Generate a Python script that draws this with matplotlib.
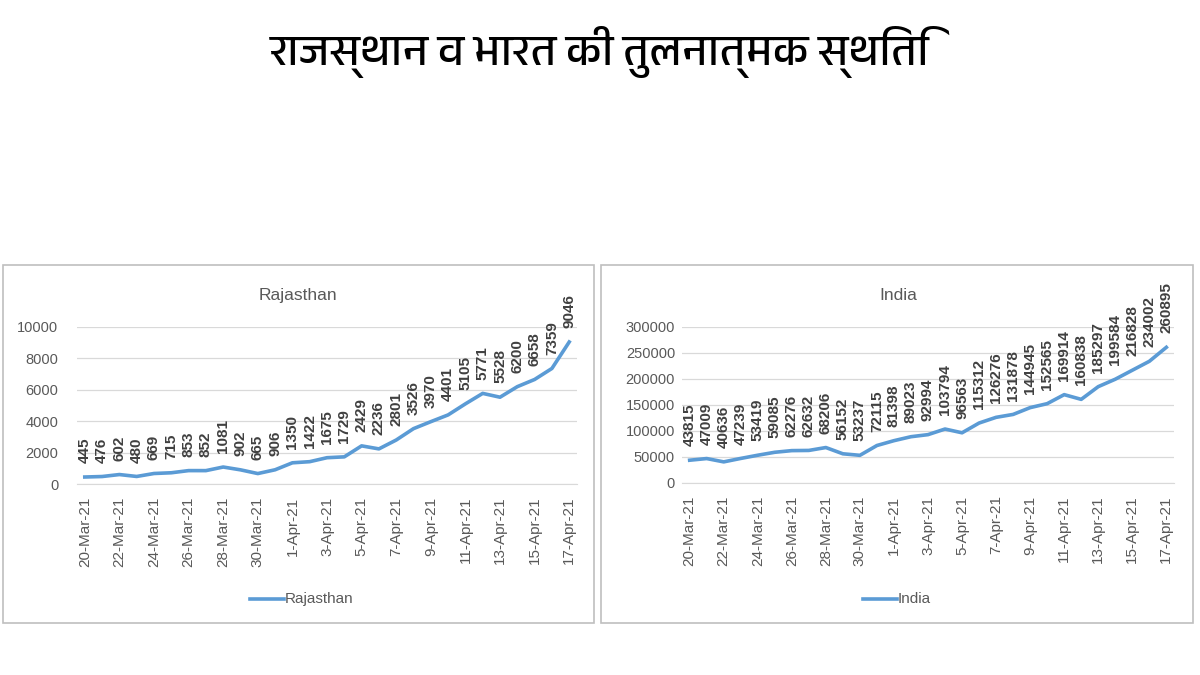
import matplotlib
matplotlib.use("Agg")
import matplotlib.pyplot as plt
import matplotlib.font_manager as fm
from matplotlib.patches import Rectangle
from matplotlib.lines import Line2D

# data
dates = ["20-Mar-21", "21-Mar-21", "22-Mar-21", "23-Mar-21", "24-Mar-21",
         "25-Mar-21", "26-Mar-21", "27-Mar-21", "28-Mar-21", "29-Mar-21",
         "30-Mar-21", "31-Mar-21", "1-Apr-21", "2-Apr-21", "3-Apr-21",
         "4-Apr-21", "5-Apr-21", "6-Apr-21", "7-Apr-21", "8-Apr-21",
         "9-Apr-21", "10-Apr-21", "11-Apr-21", "12-Apr-21", "13-Apr-21",
         "14-Apr-21", "15-Apr-21", "16-Apr-21", "17-Apr-21"]
rajasthan = [445, 476, 602, 480, 669, 715, 853, 852, 1081, 902, 665, 906,
             1350, 1422, 1675, 1729, 2429, 2236, 2801, 3526, 3970, 4401,
             5105, 5771, 5528, 6200, 6658, 7359, 9046]
india = [43815, 47009, 40636, 47239, 53419, 59085, 62276, 62632, 68206,
         56152, 53237, 72115, 81398, 89023, 92994, 103794, 96563, 115312,
         126276, 131878, 144945, 152565, 169914, 160838, 185297, 199584,
         216828, 234002, 260895]
raj_yticks = [0, 2000, 4000, 6000, 8000, 10000]
ind_yticks = [0, 50000, 100000, 150000, 200000, 250000, 300000]

title = "राजस्थान व भारत की तुलनात्मक स्थिति"

BLUE = "#5B9BD5"
GREY = "#595959"
GRID = "#D9D9D9"
plt.rcParams["font.family"] = ["Liberation Sans", "DejaVu Sans"]

# look for anything that can draw Devanagari
deva = sorted({f.name for f in fm.fontManager.ttflist
               if any(k in f.name for k in ("Devanagari", "Lohit", "Mukta",
                                            "Mangal", "Hind", "FreeSans"))})
title_fonts = deva + ["DejaVu Sans"]

fig = plt.figure(figsize=(12, 6.75), dpi=100)
W, H = 1200, 675


def px(x0, y0, x1, y1):
    # pixel box (top-left origin) -> figure fraction
    return [x0 / W, 1 - y1 / H, (x1 - x0) / W, (y1 - y0) / H]


fig.text(0.5, 1 - 52 / H, title, ha="center", va="center", fontsize=32,
         family=title_fonts, color="black")


def panel(box, plotbox, values, yticks, name, title_x, legend_x, ypad):
    b = px(*box)
    fig.patches.append(Rectangle((b[0], b[1]), b[2], b[3],
                                 transform=fig.transFigure, fill=False,
                                 edgecolor="#BFBFBF", linewidth=1.2))
    ax = fig.add_axes(px(*plotbox))
    x = list(range(len(values)))
    ax.plot(x, values, color=BLUE, linewidth=2.6, solid_joinstyle="round")
    ax.set_xlim(-0.45, len(values) - 0.55)
    ax.set_ylim(yticks[0], yticks[-1])
    ax.set_yticks(yticks)
    ax.set_yticklabels([str(t) for t in yticks], fontsize=10.5, color=GREY)
    ax.set_xticks(x[::2])
    ax.set_xticklabels(dates[::2], rotation=90, fontsize=11, color=GREY)
    ax.tick_params(axis="x", length=0, pad=9)
    ax.tick_params(axis="y", length=0, pad=ypad)
    ax.grid(axis="y", color=GRID, linewidth=0.9)
    ax.set_axisbelow(True)
    for s in ("top", "right", "left"):
        ax.spines[s].set_visible(False)
    ax.spines["bottom"].set_color(GRID)
    for xi, v in zip(x, values):
        ax.annotate(str(v), (xi, v), xytext=(0, 10), textcoords="offset points",
                    rotation=90, ha="center", va="bottom", fontsize=11,
                    fontweight="bold", color="#404040", annotation_clip=False)
    fig.text(title_x / W, 1 - 295 / H, name, ha="center", va="center",
             fontsize=12.5, color=GREY)
    ly = 1 - 599 / H
    fig.lines.append(Line2D([(legend_x - 50) / W, (legend_x - 16) / W],
                            [ly, ly], transform=fig.transFigure,
                            color=BLUE, linewidth=2.6))
    fig.text((legend_x - 15) / W, ly, name, ha="left", va="center",
             fontsize=11, color=GREY)
    return ax


panel((3, 265, 594, 623), (77, 327, 577, 484), rajasthan, raj_yticks,
      "Rajasthan", 298, 300, 13.5)
panel((601, 265, 1193, 623), (682, 327, 1174, 483), india, ind_yticks,
      "India", 898, 913, 5)

fig.savefig("out.png", dpi=100, facecolor="white")
